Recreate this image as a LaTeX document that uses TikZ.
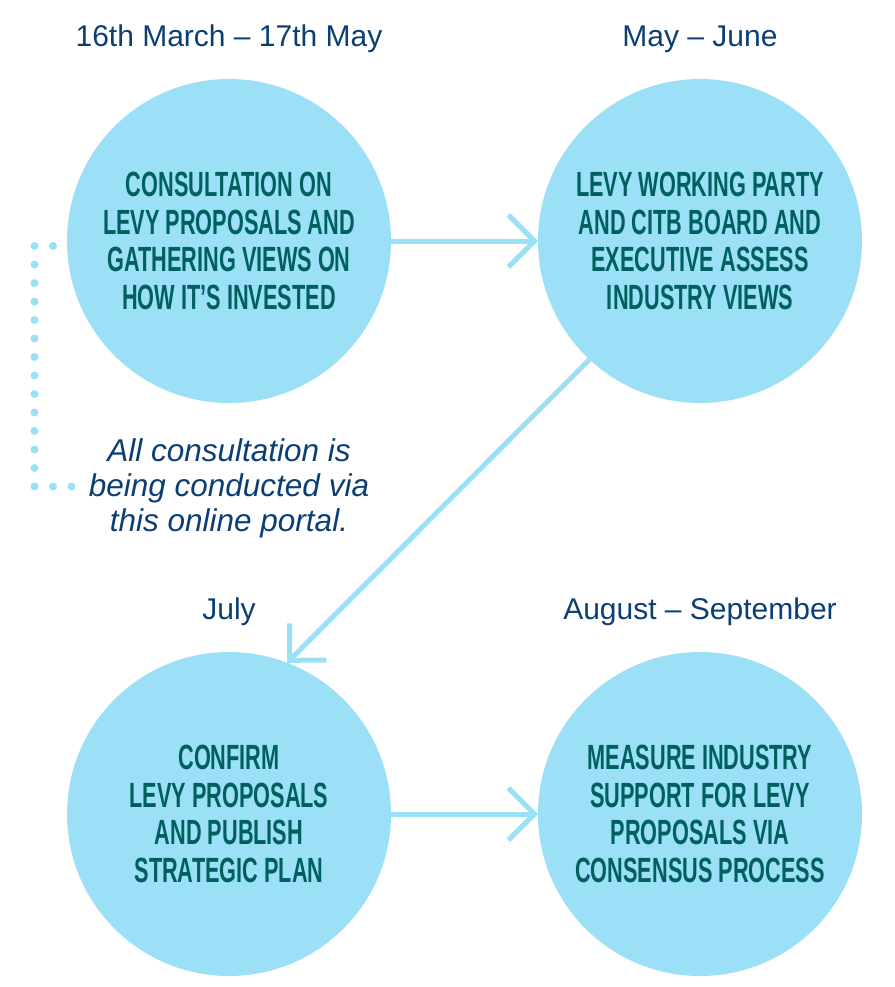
\documentclass[tikz,border=0pt]{standalone}
\usepackage{fontspec}
\setmainfont{Liberation Sans}
\newfontfamily\condfont{Liberation Sans}[FakeStretch=0.62]
\usetikzlibrary{positioning,arrows.meta}
\definecolor{circblue}{HTML}{9BE0F6}
\definecolor{stageteal}{HTML}{00605F}
\definecolor{dateblue}{HTML}{0B3F73}
\tikzset{
  stage/.style={circle,fill=circblue,minimum size=324pt,inner sep=0pt,outer sep=0pt,align=center,text=stageteal,font=\condfont\bfseries\fontsize{35}{37.7}\selectfont},
  date/.style={text=dateblue,inner sep=0pt,font=\fontsize{30}{36}\selectfont},
  note/.style={text=dateblue,inner sep=0pt,align=center,font=\itshape\fontsize{31.5}{35}\selectfont},
  flow/.style={draw=circblue,line width=5pt,-{Straight Barb[length=26pt,width=52pt,sharp]}},
  dots/.style={draw=circblue,line width=8pt,line cap=round,dash pattern=on 0pt off 18.5pt}
}
\begin{document}
\begin{tikzpicture}[x=1pt,y=-1pt,node distance=147pt]
\useasboundingbox (0,0) rectangle (894,987);
\node[stage] (0) at (229,241) {CONSULTATION ON\\LEVY PROPOSALS AND\\GATHERING VIEWS ON\\HOW IT’S INVESTED};
\node[stage] (1) [right=of 0] {LEVY WORKING PARTY\\AND CITB BOARD AND\\EXECUTIVE ASSESS\\INDUSTRY VIEWS};
\node[stage] (2) [below=249pt of 0] {CONFIRM\\LEVY PROPOSALS\\AND PUBLISH\\STRATEGIC PLAN};
\node[stage] (3) [right=of 2] {MEASURE INDUSTRY\\SUPPORT FOR LEVY\\PROPOSALS VIA\\CONSENSUS PROCESS};
\node[date] (t0) [above=32pt of 0,anchor=base] {16th March – 17th May};
\node[date] (t1) [above=32pt of 1,anchor=base] {May – June};
\node[date] (t2) [above=33pt of 2,anchor=base] {July};
\node[date] (t3) [above=33pt of 3,anchor=base] {August – September};
\node[note] (n) [below=35pt of 0] {All consultation is\\being conducted via\\this online portal.};
% dotted bracket beside the note
\coordinate (d0) at (53,246);
\coordinate (d1) at (34.5,246);
\coordinate (d2) at (34.5,486.5);
\coordinate (d3) at (71.5,486.5);
\draw[dots] (d0) -- (d1) -- (d2) -- (d3);
\draw[flow] (0) -- (1);
\draw[flow] (1.-133) -- (2.69);
\draw[flow] (2) -- (3);
\end{tikzpicture}
\end{document}
